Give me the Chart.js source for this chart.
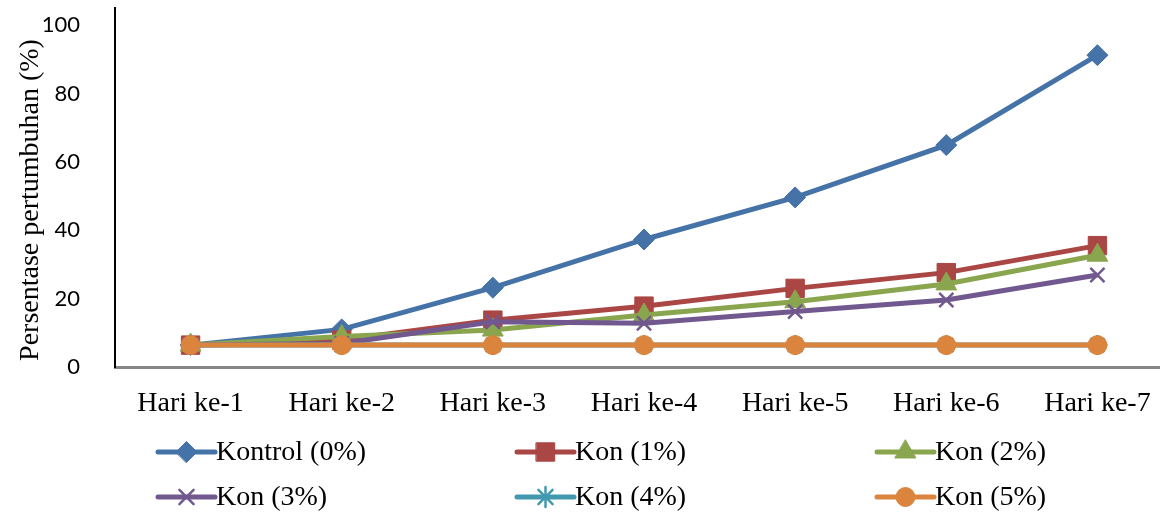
<!DOCTYPE html>
<html>
<head>
<meta charset="utf-8">
<script src="https://cdn.jsdelivr.net/npm/chart.js@4/dist/chart.umd.min.js"></script>
<style>
  html, body { margin: 0; padding: 0; background: #fff; overflow: hidden; }
  canvas { display: block; }
</style>
</head>
<body>
<canvas id="chart" width="1173" height="516"></canvas>
<script>
// Growth percentage per day for each concentration
const categories = ['Hari ke-1', 'Hari ke-2', 'Hari ke-3', 'Hari ke-4', 'Hari ke-5', 'Hari ke-6', 'Hari ke-7'];
const kontrol0 = [6.4, 11.0, 23.2, 37.3, 49.6, 64.9, 91.2];
const kon1 = [6.4, 7.9, 13.7, 17.8, 23.0, 27.6, 35.5];
const kon2 = [6.4, 8.9, 10.8, 15.2, 19.1, 24.3, 32.7];
const kon3 = [6.4, 6.9, 13.2, 12.8, 16.2, 19.6, 26.9];
const kon4 = [6.4, 6.4, 6.4, 6.4, 6.4, 6.4, 6.4];
const kon5 = [6.4, 6.4, 6.4, 6.4, 6.4, 6.4, 6.4];
const seriesNames = ['Kontrol (0%)', 'Kon (1%)', 'Kon (2%)', 'Kon (3%)', 'Kon (4%)', 'Kon (5%)'];
const yTicks = [0, 20, 40, 60, 80, 100];
const yTitle = 'Persentase pertumbuhan (%)';

const colors = ['#4572A7', '#AA4643', '#89A54E', '#71588F', '#4198AF', '#DB843D'];
const styles = [
  { pointStyle: 'rectRot', radius: 10.5, bw: 1 },
  { pointStyle: 'rect', radius: 13, bw: 1 },
  { pointStyle: 'triangle', radius: 12, bw: 1 },
  { pointStyle: 'crossRot', radius: 10, bw: 2.5 },
  { pointStyle: 'star', radius: 10, bw: 2.5 },
  { pointStyle: 'circle', radius: 9.5, bw: 1 }
];
const seriesValues = [kontrol0, kon1, kon2, kon3, kon4, kon5];

const datasets = seriesValues.map((vals, i) => ({
  label: seriesNames[i],
  data: vals,
  borderColor: colors[i],
  backgroundColor: colors[i],
  borderWidth: 5,
  tension: 0,
  clip: false,
  pointStyle: styles[i].pointStyle,
  pointRadius: styles[i].radius,
  pointHoverRadius: styles[i].radius,
  pointBorderWidth: styles[i].bw,
  pointBorderColor: colors[i],
  pointBackgroundColor: colors[i],
  order: seriesValues.length - 1 - i
}));

function drawMarker(ctx, style, color, x, y) {
  const opts = { pointStyle: style.pointStyle, radius: style.radius, borderWidth: style.bw, rotation: 0 };
  ctx.save();
  ctx.fillStyle = color;
  ctx.strokeStyle = color;
  ctx.lineWidth = style.bw;
  if (Chart.helpers && Chart.helpers.drawPoint) {
    Chart.helpers.drawPoint(ctx, opts, x, y);
  } else {
    ctx.beginPath();
    ctx.arc(x, y, style.radius, 0, Math.PI * 2);
    ctx.fill();
  }
  ctx.restore();
}

// Axis title and a three-column legend drawn under the axis
const extras = {
  id: 'extras',
  afterDraw(chart) {
    const ctx = chart.ctx;
    ctx.save();
    ctx.fillStyle = '#000';
    ctx.font = '28px "Liberation Serif", "Times New Roman", serif';
    ctx.translate(31, 200);
    ctx.rotate(-Math.PI / 2);
    ctx.textAlign = 'center';
    ctx.textBaseline = 'middle';
    ctx.fillText(yTitle, 0, 0);
    ctx.restore();

    const colX = [158, 517, 877];
    const rowY = [452, 497];
    const lineLen = 57;
    ctx.save();
    ctx.font = '28px "Liberation Serif", "Times New Roman", serif';
    ctx.textBaseline = 'middle';
    ctx.textAlign = 'left';
    seriesNames.forEach((name, i) => {
      const x0 = colX[i % 3];
      const y0 = rowY[Math.floor(i / 3)];
      ctx.strokeStyle = colors[i];
      ctx.lineWidth = 5;
      ctx.lineCap = 'round';
      ctx.beginPath();
      ctx.moveTo(x0, y0);
      ctx.lineTo(x0 + lineLen, y0);
      ctx.stroke();
      drawMarker(ctx, styles[i], colors[i], x0 + lineLen / 2, y0);
      ctx.fillStyle = '#000';
      ctx.fillText(name, x0 + lineLen + 1, y0 + 1);
    });
    ctx.restore();
  }
};

new Chart(document.getElementById('chart'), {
  type: 'line',
  data: { labels: categories, datasets },
  options: {
    responsive: false,
    devicePixelRatio: 1,
    animation: false,
    layout: { autoPadding: false, padding: { left: 0, right: 0, top: 8, bottom: 0 } },
    plugins: { legend: { display: false }, tooltip: { enabled: false } },
    scales: {
      x: {
        offset: true,
        grid: { display: false },
        border: { display: true, color: '#868686', width: 3 },
        ticks: {
          color: '#000',
          padding: 12,
          maxRotation: 0,
          autoSkip: false,
          font: { family: '"Liberation Serif", "Times New Roman", serif', size: 28 }
        },
        afterFit(scale) {
          scale.height = 149;
          scale.paddingLeft = 0;
          scale.paddingRight = 0;
        }
      },
      y: {
        min: 0,
        max: 105,
        grid: { display: false },
        border: { display: true, color: '#000', width: 2 },
        afterBuildTicks(scale) { scale.ticks = yTicks.map(v => ({ value: v })); },
        ticks: {
          color: '#000',
          padding: 27,
          font: { family: 'Lato, "Open Sans", sans-serif', size: 22 }
        },
        afterFit(scale) {
          scale.width = 115;
          scale.paddingTop = 0;
          scale.paddingBottom = 0;
        }
      }
    }
  },
  plugins: [extras]
});
</script>
</body>
</html>
